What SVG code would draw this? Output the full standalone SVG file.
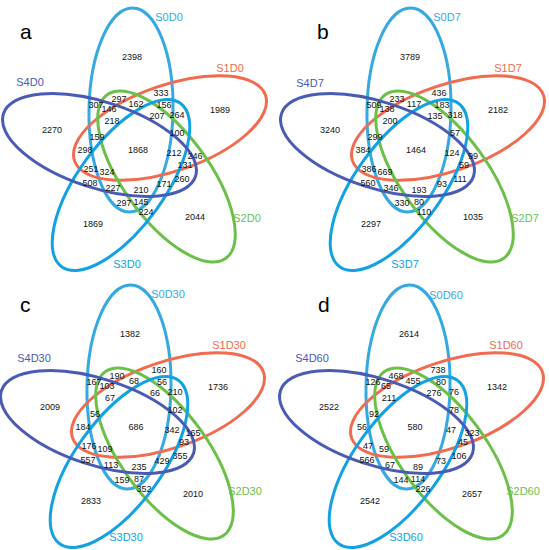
<svg xmlns="http://www.w3.org/2000/svg" width="549" height="550" viewBox="0 0 549 550">
<style>
text{font-family:"Liberation Sans",Arial,sans-serif}
.e{fill:none;stroke-width:3}
.s0{stroke:#36a9e1}.s1{stroke:#f26a4f}.s2{stroke:#6cc04a}.s3{stroke:#12a2e4}.s4{stroke:#4a5bb5}
.l{font-size:11px;text-anchor:middle}
.t0{fill:#36a9e1}.t1{fill:#f26a4f}.t2{fill:#6cc04a}.t3{fill:#12a2e4}.t4{fill:#4a5bb5}
.n{font-size:9px;text-anchor:middle;fill:#111}
.p{font-size:21px;fill:#000}
</style>
<defs>
<g id="sets">
<ellipse class="e s0" cx="131" cy="110" rx="42" ry="102" transform="rotate(1 131 110)"/>
<ellipse class="e s1" cx="170" cy="128" rx="101" ry="43" transform="rotate(-19 170 128)"/>
<ellipse class="e s2" cx="166.5" cy="176.5" rx="43" ry="101" transform="rotate(-36 166.5 176.5)"/>
<ellipse class="e s3" cx="121" cy="185" rx="43" ry="101" transform="rotate(36 121 185)"/>
<ellipse class="e s4" cx="99.5" cy="145" rx="101" ry="43" transform="rotate(18 99.5 145)"/>
</g>
</defs>

<g id="panel-a">
<g id="a-sets"><use href="#sets"/></g>
<text class="p" x="20" y="39">a</text>
<g id="a-labels">
<text class="l t0" x="169" y="21">S0D0</text>
<text class="l t1" x="230" y="72">S1D0</text>
<text class="l t2" x="247" y="222">S2D0</text>
<text class="l t3" x="127" y="268">S3D0</text>
<text class="l t4" x="30" y="86">S4D0</text>
</g>
<g id="a-counts">
<text class="n" x="132" y="60">2398</text>
<text class="n" x="220" y="113">1989</text>
<text class="n" x="52" y="133">2270</text>
<text class="n" x="138" y="153">1868</text>
<text class="n" x="195" y="220">2044</text>
<text class="n" x="93" y="227">1869</text>
<text class="n" x="161" y="96">333</text>
<text class="n" x="119" y="102">297</text>
<text class="n" x="136" y="107">162</text>
<text class="n" x="164" y="108">156</text>
<text class="n" x="96" y="108">307</text>
<text class="n" x="109" y="112">146</text>
<text class="n" x="157" y="119">207</text>
<text class="n" x="177" y="118">264</text>
<text class="n" x="112" y="124">218</text>
<text class="n" x="177" y="136">100</text>
<text class="n" x="97" y="140">159</text>
<text class="n" x="85" y="153">298</text>
<text class="n" x="174" y="156">212</text>
<text class="n" x="195" y="159">246</text>
<text class="n" x="185" y="168">131</text>
<text class="n" x="91" y="172">251</text>
<text class="n" x="107" y="175">324</text>
<text class="n" x="182" y="182">260</text>
<text class="n" x="90" y="186">508</text>
<text class="n" x="113" y="191">227</text>
<text class="n" x="141" y="193">210</text>
<text class="n" x="164" y="187">171</text>
<text class="n" x="124" y="206">297</text>
<text class="n" x="141" y="205">145</text>
<text class="n" x="146" y="215">224</text>
</g>
</g>

<g id="panel-b" transform="translate(278 0)">
<g id="b-sets"><use href="#sets"/></g>
<text class="p" x="39" y="39">b</text>
<g id="b-labels">
<text class="l t0" x="169" y="21">S0D7</text>
<text class="l t1" x="230" y="72">S1D7</text>
<text class="l t2" x="247" y="222">S2D7</text>
<text class="l t3" x="127" y="268">S3D7</text>
<text class="l t4" x="32" y="87">S4D7</text>
</g>
<g id="b-counts">
<text class="n" x="132" y="60">3789</text>
<text class="n" x="220" y="113">2182</text>
<text class="n" x="52" y="133">3240</text>
<text class="n" x="138" y="153">1464</text>
<text class="n" x="195" y="220">1035</text>
<text class="n" x="93" y="227">2297</text>
<text class="n" x="161" y="96">436</text>
<text class="n" x="119" y="102">233</text>
<text class="n" x="136" y="107">117</text>
<text class="n" x="164" y="108">183</text>
<text class="n" x="96" y="108">509</text>
<text class="n" x="109" y="112">138</text>
<text class="n" x="157" y="119">135</text>
<text class="n" x="177" y="118">318</text>
<text class="n" x="112" y="124">200</text>
<text class="n" x="177" y="136">57</text>
<text class="n" x="97" y="140">299</text>
<text class="n" x="85" y="153">384</text>
<text class="n" x="174" y="156">124</text>
<text class="n" x="195" y="159">99</text>
<text class="n" x="186" y="168">59</text>
<text class="n" x="91" y="172">386</text>
<text class="n" x="107" y="175">669</text>
<text class="n" x="182" y="182">111</text>
<text class="n" x="90" y="186">560</text>
<text class="n" x="113" y="191">346</text>
<text class="n" x="141" y="193">193</text>
<text class="n" x="164" y="187">93</text>
<text class="n" x="124" y="206">330</text>
<text class="n" x="141" y="205">80</text>
<text class="n" x="146" y="215">110</text>
</g>
</g>

<g id="panel-c" transform="translate(-2 277)">
<g id="c-sets"><use href="#sets"/></g>
<text class="p" x="22" y="35">c</text>
<g id="c-labels">
<text class="l t0" x="170" y="21">S0D30</text>
<text class="l t1" x="231" y="72">S1D30</text>
<text class="l t2" x="247" y="218">S2D30</text>
<text class="l t3" x="128" y="264">S3D30</text>
<text class="l t4" x="36" y="85">S4D30</text>
</g>
<g id="c-counts">
<text class="n" x="132" y="60">1382</text>
<text class="n" x="220" y="113">1736</text>
<text class="n" x="52" y="133">2009</text>
<text class="n" x="138" y="153">686</text>
<text class="n" x="195" y="220">2010</text>
<text class="n" x="93" y="227">2833</text>
<text class="n" x="161" y="96">160</text>
<text class="n" x="119" y="102">190</text>
<text class="n" x="136" y="107">68</text>
<text class="n" x="164" y="108">56</text>
<text class="n" x="96" y="108">167</text>
<text class="n" x="109" y="112">103</text>
<text class="n" x="157" y="119">66</text>
<text class="n" x="177" y="118">210</text>
<text class="n" x="112" y="124">67</text>
<text class="n" x="177" y="136">102</text>
<text class="n" x="97" y="140">56</text>
<text class="n" x="85" y="153">184</text>
<text class="n" x="174" y="156">342</text>
<text class="n" x="195" y="159">165</text>
<text class="n" x="186" y="168">93</text>
<text class="n" x="91" y="172">176</text>
<text class="n" x="107" y="175">109</text>
<text class="n" x="182" y="182">355</text>
<text class="n" x="90" y="186">557</text>
<text class="n" x="113" y="191">113</text>
<text class="n" x="141" y="193">235</text>
<text class="n" x="164" y="187">429</text>
<text class="n" x="124" y="206">159</text>
<text class="n" x="141" y="205">87</text>
<text class="n" x="146" y="215">352</text>
</g>
</g>

<g id="panel-d" transform="translate(277 277)">
<g id="d-sets"><use href="#sets"/></g>
<text class="p" x="41" y="35">d</text>
<g id="d-labels">
<text class="l t0" x="169" y="22">S0D60</text>
<text class="l t1" x="229" y="72">S1D60</text>
<text class="l t2" x="246" y="218">S2D60</text>
<text class="l t3" x="129" y="264">S3D60</text>
<text class="l t4" x="35" y="85">S4D60</text>
</g>
<g id="d-counts">
<text class="n" x="132" y="60">2614</text>
<text class="n" x="220" y="113">1342</text>
<text class="n" x="52" y="133">2522</text>
<text class="n" x="138" y="153">580</text>
<text class="n" x="195" y="220">2657</text>
<text class="n" x="93" y="227">2542</text>
<text class="n" x="161" y="96">738</text>
<text class="n" x="119" y="102">468</text>
<text class="n" x="136" y="107">455</text>
<text class="n" x="164" y="108">80</text>
<text class="n" x="96" y="108">126</text>
<text class="n" x="109" y="112">65</text>
<text class="n" x="157" y="119">276</text>
<text class="n" x="177" y="118">76</text>
<text class="n" x="112" y="124">211</text>
<text class="n" x="177" y="136">78</text>
<text class="n" x="97" y="140">92</text>
<text class="n" x="85" y="153">56</text>
<text class="n" x="174" y="156">47</text>
<text class="n" x="195" y="159">323</text>
<text class="n" x="186" y="168">45</text>
<text class="n" x="91" y="172">47</text>
<text class="n" x="107" y="175">59</text>
<text class="n" x="182" y="182">106</text>
<text class="n" x="90" y="186">566</text>
<text class="n" x="113" y="191">67</text>
<text class="n" x="141" y="193">89</text>
<text class="n" x="164" y="187">73</text>
<text class="n" x="124" y="206">144</text>
<text class="n" x="141" y="205">114</text>
<text class="n" x="146" y="215">226</text>
</g>
</g>
</svg>
